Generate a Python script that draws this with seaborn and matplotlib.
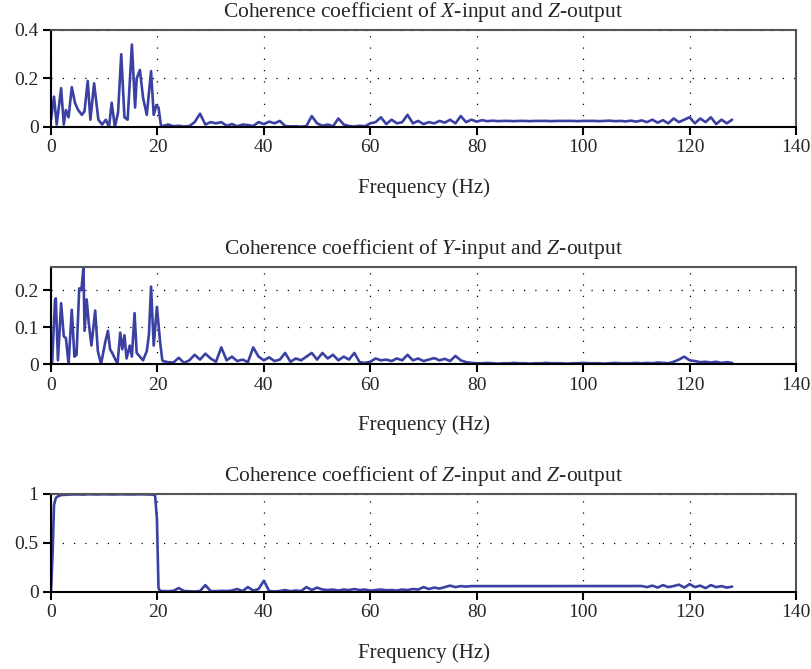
import numpy as np
import pandas as pd
import seaborn as sns
import matplotlib.pyplot as plt

# low-frequency part (0-21 Hz)
freq_low_x = [0, 0.56, 1.07, 1.9, 2.4, 2.8, 3.3, 3.9, 4.5, 5.1, 5.8, 6.3, 6.9, 7.4, 8.1,
              8.9, 9.6, 10.3, 10.9, 11.4, 12.0, 12.6, 13.2, 13.8, 14.4, 15.2, 15.8, 16.1,
              16.7, 17.3, 18.0, 18.8, 19.3, 19.8, 20.2, 20.7]
coh_low_x = [0.03, 0.125, 0.01, 0.16, 0.01, 0.07, 0.04, 0.164, 0.10, 0.07, 0.05, 0.065, 0.19,
             0.03, 0.18, 0.03, 0.01, 0.03, 0.0, 0.10, 0.0, 0.06, 0.30, 0.04, 0.03, 0.34, 0.08,
             0.20, 0.235, 0.12, 0.05, 0.23, 0.05, 0.09, 0.08, 0.0]

freq_low_y = [0, 0.2, 0.75, 0.9, 1.3, 1.9, 2.4, 2.8, 3.3, 3.9, 4.4, 4.8, 5.3, 5.7, 6.1, 6.3,
              6.7, 7.1, 7.6, 8.3, 8.8, 9.4, 10.2, 10.7, 11.1, 11.5, 12.0, 12.5, 13.0, 13.4,
              13.8, 14.2, 14.8, 15.2, 15.7, 16.1, 16.7, 17.3, 18.0, 18.4, 18.8, 19.3, 19.9,
              20.5, 20.9]
coh_low_y = [0.01, 0.0, 0.174, 0.178, 0.01, 0.165, 0.075, 0.07, 0.0, 0.147, 0.02, 0.025, 0.205,
             0.2, 0.262, 0.09, 0.175, 0.11, 0.05, 0.145, 0.035, 0.0, 0.06, 0.09, 0.04, 0.03,
             0.015, 0.0, 0.085, 0.04, 0.078, 0.015, 0.05, 0.02, 0.138, 0.03, 0.02, 0.01, 0.035,
             0.08, 0.21, 0.05, 0.155, 0.06, 0.012]

freq_low_z = [0, 0.3, 0.56, 0.9, 1.4, 2, 3, 4, 5, 6, 7, 8, 9, 10, 11, 12, 13, 14, 15, 16, 17,
              18, 19, 19.55, 19.9, 20.2, 20.5]
coh_low_z = [0.0, 0.4, 0.887, 0.96, 0.98, 0.99, 0.993, 0.995, 0.996, 0.994, 0.997, 0.996,
             0.995, 0.997, 0.996, 0.995, 0.997, 0.996, 0.995, 0.996, 0.997, 0.995, 0.994,
             0.99, 0.75, 0.04, 0.01]

# 21-128 Hz
freq_tail = [21, 22, 23, 24, 25, 26, 27, 28, 29, 30, 31, 32, 33, 34, 35, 36, 37, 38, 39, 40,
             41, 42, 43, 44, 45, 46, 47, 48, 49, 50, 51, 52, 53, 54, 55, 56, 57, 58, 59, 60,
             61, 62, 63, 64, 65, 66, 67, 68, 69, 70, 71, 72, 73, 74, 75, 76, 77, 78, 79, 80,
             81, 82, 83, 84, 85, 86, 87, 88, 89, 90, 91, 92, 93, 94, 95, 96, 97, 98, 99, 100,
             101, 102, 103, 104, 105, 106, 107, 108, 109, 110, 111, 112, 113, 114, 115, 116,
             117, 118, 119, 120, 121, 122, 123, 124, 125, 126, 127, 128]

coh_tail_x = [0.004, 0.01, 0.003, 0.005, 0.002, 0.004, 0.02, 0.055, 0.01, 0.02,
              0.015, 0.02, 0.005, 0.012, 0.003, 0.01, 0.008, 0.004, 0.02, 0.012,
              0.022, 0.015, 0.025, 0.004, 0.002, 0.003, 0.001, 0.004, 0.045, 0.015,
              0.005, 0.01, 0.003, 0.035, 0.01, 0.004, 0.002, 0.005, 0.003, 0.015,
              0.02, 0.04, 0.012, 0.03, 0.015, 0.02, 0.05, 0.015, 0.025, 0.012,
              0.02, 0.015, 0.025, 0.018, 0.03, 0.015, 0.045, 0.02, 0.03, 0.022,
              0.028, 0.024, 0.026, 0.024, 0.025, 0.025, 0.024, 0.025, 0.025, 0.024,
              0.025, 0.025, 0.025, 0.024, 0.025, 0.025, 0.025, 0.025, 0.024, 0.025,
              0.025, 0.025, 0.024, 0.025, 0.026, 0.024, 0.025, 0.023, 0.026, 0.022,
              0.027, 0.02, 0.03, 0.018, 0.028, 0.015, 0.035, 0.02, 0.03, 0.04,
              0.015, 0.035, 0.02, 0.04, 0.012, 0.03, 0.015, 0.03]

coh_tail_y = [0.008, 0.005, 0.004, 0.017, 0.003, 0.01, 0.025, 0.012, 0.028, 0.015,
              0.006, 0.045, 0.01, 0.02, 0.008, 0.012, 0.005, 0.045, 0.02, 0.01,
              0.018, 0.008, 0.012, 0.03, 0.006, 0.015, 0.01, 0.02, 0.03, 0.012,
              0.03, 0.015, 0.025, 0.01, 0.02, 0.012, 0.03, 0.005, 0.003, 0.006,
              0.015, 0.01, 0.012, 0.008, 0.015, 0.01, 0.025, 0.01, 0.015, 0.008,
              0.012, 0.016, 0.01, 0.014, 0.008, 0.022, 0.01, 0.005, 0.003, 0.002,
              0.002, 0.003, 0.002, 0.001, 0.002, 0.002, 0.003, 0.002, 0.002, 0.001,
              0.002, 0.002, 0.003, 0.002, 0.002, 0.002, 0.001, 0.002, 0.002, 0.003,
              0.002, 0.002, 0.002, 0.001, 0.002, 0.003, 0.002, 0.002, 0.002, 0.003,
              0.002, 0.003, 0.002, 0.004, 0.003, 0.002, 0.006, 0.012, 0.02, 0.01,
              0.008, 0.005, 0.006, 0.004, 0.006, 0.003, 0.005, 0.003]

coh_tail_z = [0.01, 0.008, 0.012, 0.04, 0.01, 0.008, 0.005, 0.01, 0.07, 0.01,
              0.008, 0.012, 0.01, 0.015, 0.03, 0.01, 0.05, 0.015, 0.03, 0.115,
              0.01, 0.005, 0.01, 0.02, 0.008, 0.015, 0.01, 0.05, 0.02, 0.045,
              0.025, 0.02, 0.025, 0.015, 0.025, 0.02, 0.03, 0.02, 0.025, 0.015,
              0.02, 0.025, 0.018, 0.02, 0.015, 0.025, 0.02, 0.03, 0.025, 0.05,
              0.03, 0.045, 0.035, 0.05, 0.065, 0.05, 0.06, 0.055, 0.06, 0.06,
              0.061, 0.059, 0.06, 0.06, 0.061, 0.06, 0.059, 0.06, 0.06, 0.061,
              0.06, 0.06, 0.059, 0.06, 0.061, 0.06, 0.06, 0.059, 0.06, 0.06,
              0.061, 0.06, 0.059, 0.06, 0.06, 0.061, 0.06, 0.059, 0.06, 0.06,
              0.061, 0.05, 0.065, 0.045, 0.07, 0.05, 0.06, 0.075, 0.045, 0.08,
              0.05, 0.065, 0.04, 0.07, 0.05, 0.06, 0.045, 0.055]

titles = [r"Coherence coefficient of $X$-input and $Z$-output",
          r"Coherence coefficient of $Y$-input and $Z$-output",
          r"Coherence coefficient of $Z$-input and $Z$-output"]
x_ticks = [0, 20, 40, 60, 80, 100, 120, 140]
y_ticks = [[0, 0.2, 0.4], [0, 0.1, 0.2], [0, 0.5, 1]]
y_ticklabels = [["0", "0.2", "0.4"], ["0", "0.1", "0.2"], ["0", "0.5", "1"]]
y_lims = [(0, 0.4), (0, 0.263), (0, 1)]

sns.set_theme(style="white")
plt.rcParams['font.family'] = ['Liberation Serif', 'DejaVu Serif']
plt.rcParams['mathtext.fontset'] = 'custom'
plt.rcParams['mathtext.rm'] = 'Liberation Serif'
plt.rcParams['mathtext.it'] = 'Liberation Serif:italic'

series = [(freq_low_x, coh_low_x, coh_tail_x),
          (freq_low_y, coh_low_y, coh_tail_y),
          (freq_low_z, coh_low_z, coh_tail_z)]

fig = plt.figure(figsize=(8.11, 6.69), dpi=100)
bottoms = [0.8102, 0.4559, 0.1151]
heights = [0.145, 0.145, 0.1465]
line_color = "#3b41a3"

for i, (fl, cl, ct) in enumerate(series):
    ax = fig.add_axes([0.0629, bottoms[i], 0.9186, heights[i]])
    df = pd.DataFrame({"freq": list(fl) + freq_tail, "coh": list(cl) + ct})
    sns.lineplot(data=df, x="freq", y="coh", ax=ax, color=line_color,
                 linewidth=1.9, sort=False, estimator=None)
    ax.set_xlim(0, 140)
    ax.set_ylim(*y_lims[i])
    ax.set_xticks(x_ticks)
    ax.set_xticklabels([str(t) for t in x_ticks])
    ax.set_yticks(y_ticks[i])
    ax.set_yticklabels(y_ticklabels[i])
    ax.grid(True, color="black", linestyle=(0, (1, 8)), linewidth=0.9)
    ax.set_axisbelow(True)
    for side in ["left", "bottom"]:
        ax.spines[side].set_color("black")
        ax.spines[side].set_linewidth(1.5)
    for side in ["top", "right"]:
        ax.spines[side].set_color("#555555")
        ax.spines[side].set_linewidth(1.5)
    ax.tick_params(direction="out", length=6, width=1.5, color="black",
                   labelsize=14, pad=3, bottom=True, left=True)
    ax.set_xlabel("Frequency (Hz)", fontsize=15, labelpad=16)
    ax.set_ylabel("")
    ax.set_title(titles[i], fontsize=15.5, pad=9)

fig.savefig("out.png", dpi=100)
